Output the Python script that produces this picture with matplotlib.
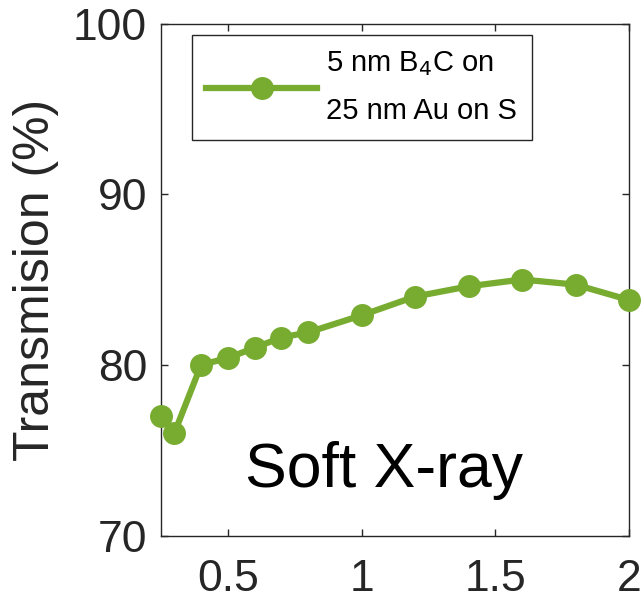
import matplotlib.pyplot as plt

plt.rcParams['font.family'] = ['Liberation Sans', 'DejaVu Sans']

# photon energy (keV) vs transmission (%)
energy = [0.25, 0.3, 0.4, 0.5, 0.6, 0.7, 0.8, 1.0, 1.2, 1.4, 1.6, 1.8, 2.0]
transmission = [77.0, 76.0, 80.0, 80.4, 81.0, 81.6, 81.9, 82.9, 84.0, 84.6, 85.0, 84.7, 83.8]
series_label = "5 nm B$_4$C on\n25 nm Au on S"
xticks = [0.5, 1, 1.5, 2]
xtick_labels = ["0.5", "1", "1.5", "2"]
yticks = [70, 80, 90, 100]

green = "#77AC30"
dark = "#262626"

fig = plt.figure(figsize=(6.43, 6.03), dpi=100)
ax = fig.add_axes([161 / 643, 1 - 535.5 / 603, 468 / 643, 512 / 603])

ax.plot(energy, transmission, color=green, lw=4.5, marker="o", ms=15.5,
        label=series_label, clip_on=False, zorder=3)

ax.set_xlim(0.25, 2)
ax.set_ylim(70, 100)
ax.set_xticks(xticks)
ax.set_xticklabels(xtick_labels)
ax.set_yticks(yticks)

ax.tick_params(direction="in", length=5, width=1, colors=dark, labelsize=32,
               top=True, right=True)
ax.tick_params(axis="x", pad=17)
ax.tick_params(axis="y", pad=10)
for s in ax.spines.values():
    s.set_color(dark)
    s.set_linewidth(1)

ax.set_ylabel("Transmision (%)", fontsize=36, color=dark, labelpad=10)

ax.text(0.563, 72.84, "Soft X-ray", fontsize=45, color="black")

leg = ax.legend(loc="upper left", bbox_to_anchor=(0.066, 0.9775), fontsize=21,
                handlelength=3.8, handletextpad=0.3, borderpad=0.5,
                borderaxespad=0, fancybox=False, framealpha=1, edgecolor=dark)
leg.get_frame().set_linewidth(1)
for t in leg.get_texts():
    t.set_linespacing(1.85)

fig.savefig("out.png", dpi=100)
